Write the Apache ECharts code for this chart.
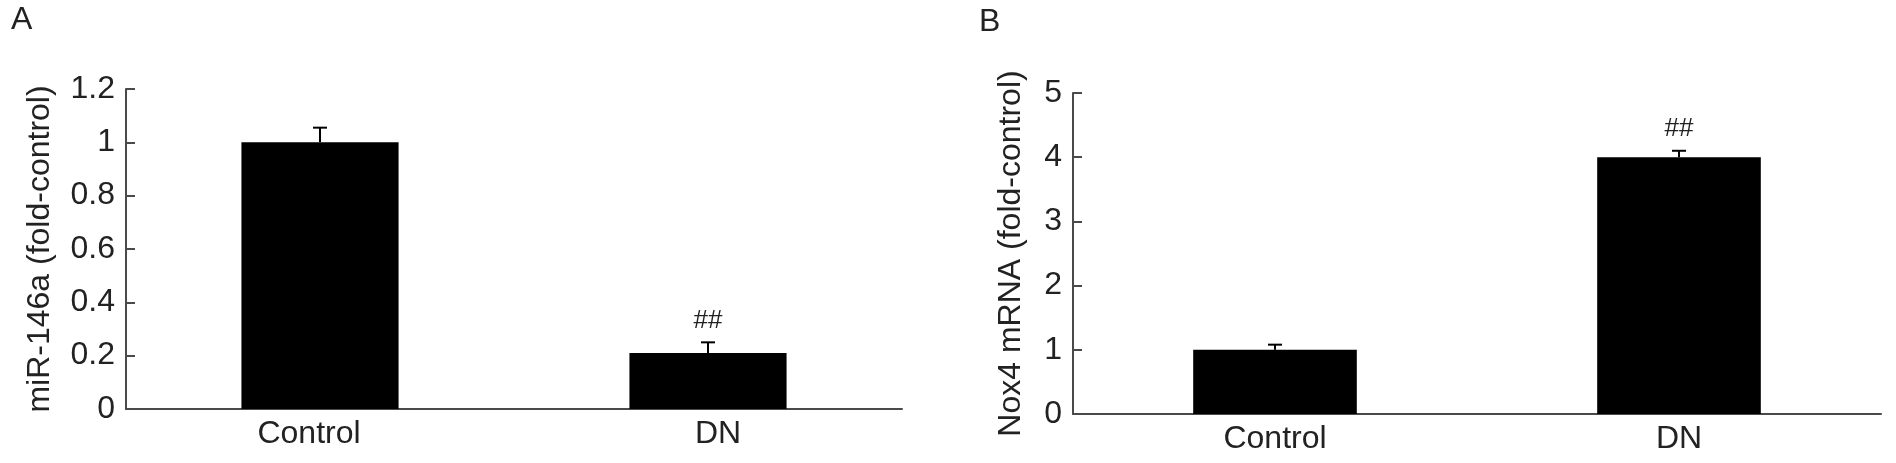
<!DOCTYPE html>
<html>
<head>
<meta charset="utf-8">
<script src="https://cdn.jsdelivr.net/npm/echarts@6/dist/echarts.min.js"></script>
<style>
  html, body { margin: 0; padding: 0; background: #fff; }
  #main { width: 1896px; height: 463px; }
</style>
</head>
<body>
<div id="main"></div>
<script>
// groups shared by both panels
const categories = ['Control', 'DN'];

// panel A: miR-146a
const mirMean = [1.0, 0.21];
const mirSem = [0.055, 0.04];
const mirMarks = ['', '##'];

// panel B: Nox4 mRNA
const noxMean = [1.0, 4.0];
const noxSem = [0.08, 0.1];
const noxMarks = ['', '##'];

const font = '"Liberation Sans", Arial, sans-serif';
const axisColor = '#4a4a4a';
const textColor = '#222';

// error bar (upward only) + significance mark drawn through the axis scales
function errorBars(means, sems, marks) {
  return function (params, api) {
    const i = params.dataIndex;
    const base = api.coord([i, means[i]]);
    const top = api.coord([i, means[i] + sems[i]]);
    const children = [
      { type: 'line', shape: { x1: base[0], y1: base[1], x2: top[0], y2: top[1] },
        style: { stroke: '#000', lineWidth: 2 } },
      { type: 'line', shape: { x1: top[0] - 7, y1: top[1], x2: top[0] + 7, y2: top[1] },
        style: { stroke: '#000', lineWidth: 2 } }
    ];
    if (marks[i]) {
      children.push({
        type: 'text',
        style: { text: marks[i], x: top[0], y: top[1] - 9, align: 'center', verticalAlign: 'bottom',
          font: '26px ' + font, fill: textColor }
      });
    }
    return { type: 'group', children: children };
  };
}

// labelPads nudges a category label sideways, as in the original panel A
function xAxisFor(gridIndex, labelPads) {
  return {
    type: 'category',
    gridIndex: gridIndex,
    data: categories.map((c, i) => labelPads
      ? { value: c, textStyle: { padding: labelPads[i] } }
      : c),
    boundaryGap: true,
    axisLine: { lineStyle: { color: axisColor, width: 2 } },
    axisTick: { inside: true, length: 9, lineStyle: { color: axisColor, width: 2 } },
    axisLabel: { color: textColor, fontSize: 32, fontFamily: font, margin: 9 }
  };
}

function yAxisFor(gridIndex, max, interval, name, nameGap) {
  return {
    type: 'value',
    gridIndex: gridIndex,
    min: 0,
    max: max,
    interval: interval,
    name: name,
    nameLocation: 'middle',
    nameGap: nameGap,
    nameTextStyle: { color: textColor, fontSize: 32, fontFamily: font },
    splitLine: { show: false },
    axisLine: { show: true, lineStyle: { color: axisColor, width: 2 } },
    axisTick: { show: true, inside: true, length: 9, lineStyle: { color: axisColor, width: 2 } },
    axisLabel: { color: textColor, fontSize: 32, fontFamily: font, margin: 11,
      formatter: v => String(+v.toFixed(1)) }
  };
}

const option = {
  animation: false,
  title: [
    { text: 'A', left: 11, top: 4, padding: 0, textStyle: { fontSize: 32, fontWeight: 'normal', fontFamily: font, color: textColor } },
    { text: 'B', left: 979, top: 6, padding: 0, textStyle: { fontSize: 32, fontWeight: 'normal', fontFamily: font, color: textColor } }
  ],
  grid: [
    { left: 126, top: 89, width: 776, height: 320 },
    { left: 1073, top: 93, width: 808, height: 321 }
  ],
  xAxis: [xAxisFor(0, [[0, 22, 0, 0], [0, 0, 0, 20]]), xAxisFor(1)],
  yAxis: [
    yAxisFor(0, 1.2, 0.2, 'miR-146a (fold-control)', 70),
    yAxisFor(1, 5, 1, 'Nox4 mRNA (fold-control)', 46)
  ],
  series: [
    { type: 'bar', xAxisIndex: 0, yAxisIndex: 0, data: mirMean, barWidth: '40.5%',
      itemStyle: { color: '#000' } },
    { type: 'custom', xAxisIndex: 0, yAxisIndex: 0, data: mirMean,
      renderItem: errorBars(mirMean, mirSem, mirMarks), z: 3 },
    { type: 'bar', xAxisIndex: 1, yAxisIndex: 1, data: noxMean, barWidth: '40.5%',
      itemStyle: { color: '#000' } },
    { type: 'custom', xAxisIndex: 1, yAxisIndex: 1, data: noxMean,
      renderItem: errorBars(noxMean, noxSem, noxMarks), z: 3 }
  ]
};

const chart = echarts.init(document.getElementById('main'));
chart.setOption(option);
</script>
</body>
</html>
